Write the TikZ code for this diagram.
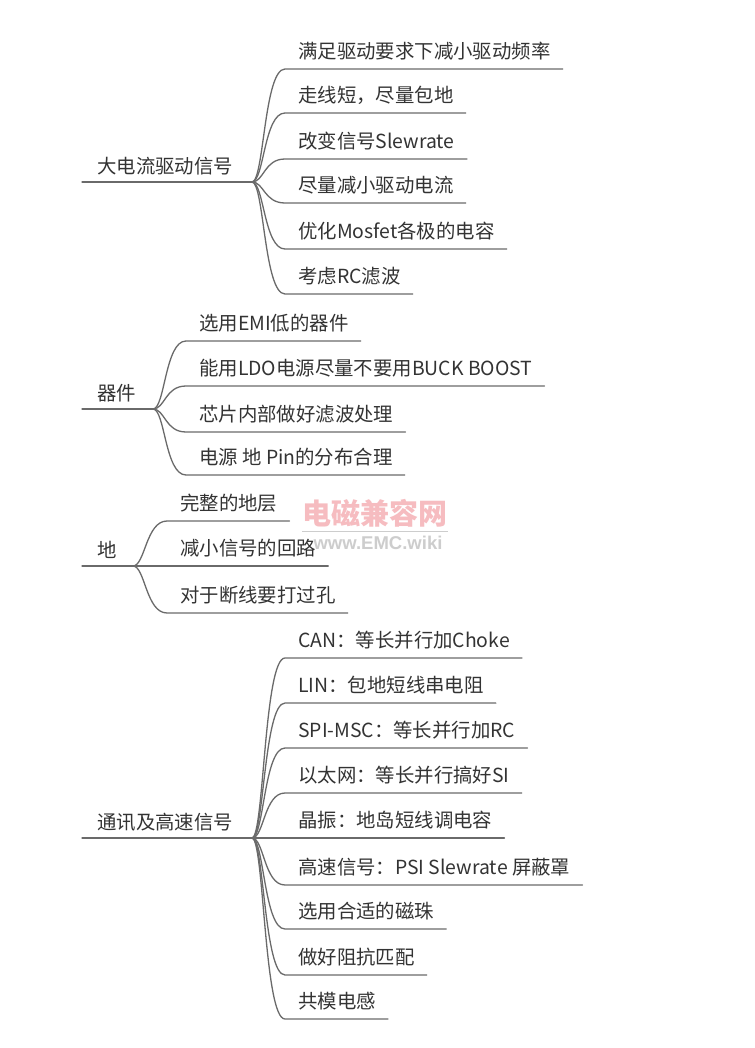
\documentclass[tikz,border=0pt]{standalone}
\usepackage{fontspec}
\newfontfamily\cjk{Noto Sans CJK SC}
\newfontfamily\wmfont{Liberation Sans}
\definecolor{txt}{HTML}{333333}
\definecolor{ln}{HTML}{6A6A6A}
\definecolor{wmpink}{HTML}{F6BCC0}
\definecolor{wmgrey}{HTML}{CDCDCD}
\begin{document}
\begin{tikzpicture}[x=1pt,y=-1pt,
  leaf/.style={anchor=south west, inner sep=0pt, text depth=10pt, text height=15pt,
    font=\cjk\fontsize{19.4}{23}\selectfont, text=txt},
  rootn/.style={anchor=south west, inner sep=0pt, text depth=8pt, text height=15pt,
    font=\cjk\fontsize{19.4}{23}\selectfont, text=txt},
  link/.style={draw=ln, line width=1.3pt, line cap=round}]
\useasboundingbox[fill=white] (0,0) rectangle (754,1048);

% watermark
\node[anchor=base, inner sep=0pt, text depth=0pt, font=\cjk\bfseries\fontsize{29}{30}\selectfont, text=wmpink] (wm) at (375,524) {电磁兼容网};
\draw[wmgrey, line width=1pt] ([yshift=-7pt]wm.base west) -- ([yshift=-7pt]wm.base east);
\node[inner sep=0pt, font=\wmfont\bfseries\fontsize{18.5}{19}\selectfont, text=wmgrey] (url) at (378,543) {www.EMC.wiki};

% section 1
\node[rootn] (r1) at (97,182) {大电流驱动信号};
\coordinate (b1) at (252,182);
\draw[link] ([xshift=-15pt]r1.south west) -- (b1);
\foreach \i/\y/\t in {1/69/满足驱动要求下减小驱动频率, 2/113/走线短，尽量包地, 3/159/改变信号Slewrate, 4/203/尽量减小驱动电流, 5/249/优化Mosfet各极的电容, 6/294/考虑RC滤波}{
  \node[leaf] (l1\i) at (298,\y) {\t};
  \draw[link] (b1) .. controls +(12,0) and +(-21,0) .. ([xshift=-13pt]l1\i.south west) -- ([xshift=12pt]l1\i.south east);
}

% section 2
\node[rootn] (r2) at (97,409) {器件};
\coordinate (b2) at (153,409);
\draw[link] ([xshift=-15pt]r2.south west) -- (b2);
\foreach \i/\y/\t in {1/341/选用EMI低的器件, 2/386/能用LDO电源尽量不要用BUCK BOOST, 3/432/芯片内部做好滤波处理, 4/475/电源 地 Pin的分布合理}{
  \node[leaf] (l2\i) at (199,\y) {\t};
  \draw[link] (b2) .. controls +(12,0) and +(-21,0) .. ([xshift=-13pt]l2\i.south west) -- ([xshift=12pt]l2\i.south east);
}

% section 3
\node[rootn] (r3) at (97,566) {地};
\coordinate (b3) at (133,566);
\draw[link] ([xshift=-15pt]r3.south west) -- (b3);
\foreach \i/\y/\t in {1/521/完整的地层, 2/566/减小信号的回路, 3/613/对于断线要打过孔}{
  \node[leaf] (l3\i) at (180,\y) {\t};
  \draw[link] (b3) .. controls +(12,0) and +(-21,0) .. ([xshift=-13pt]l3\i.south west) -- ([xshift=12pt]l3\i.south east);
}

% section 4
\node[rootn] (r4) at (97,838) {通讯及高速信号};
\coordinate (b4) at (252,838);
\draw[link] ([xshift=-15pt]r4.south west) -- (b4);
\foreach \i/\y/\t in {1/658/CAN：等长并行加Choke, 2/703/LIN：包地短线串电阻, 3/748/SPI-MSC：等长并行加RC, 4/793/以太网：等长并行搞好SI, 5/838/晶振：地岛短线调电容, 6/885/高速信号：PSI Slewrate 屏蔽罩, 7/929/选用合适的磁珠, 8/975/做好阻抗匹配, 9/1019/共模电感}{
  \node[leaf] (l4\i) at (298,\y) {\t};
  \draw[link] (b4) .. controls +(12,0) and +(-21,0) .. ([xshift=-13pt]l4\i.south west) -- ([xshift=12pt]l4\i.south east);
}
\end{tikzpicture}
\end{document}
